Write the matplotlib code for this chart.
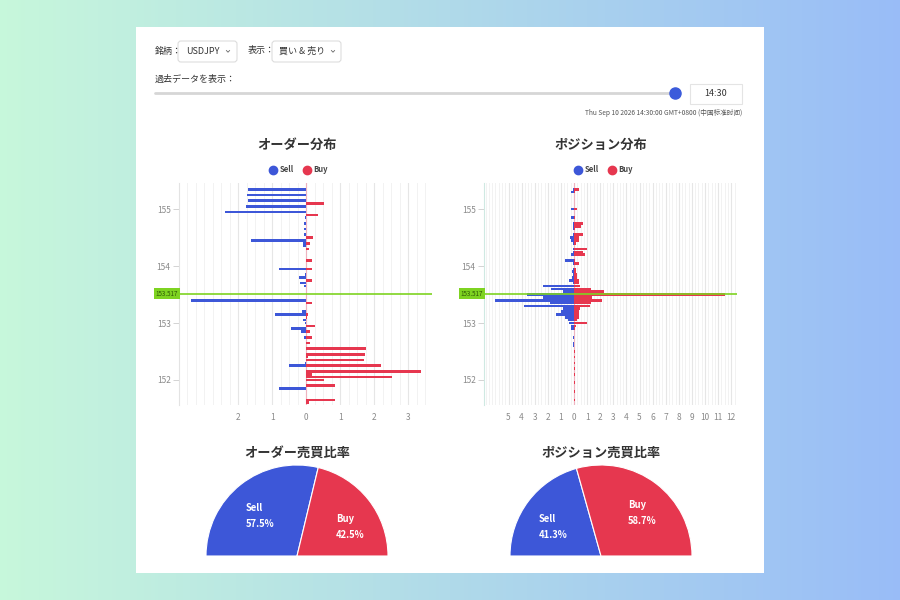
import numpy as np
import matplotlib.pyplot as plt
from matplotlib.patches import Rectangle, FancyBboxPatch
from matplotlib.ticker import MultipleLocator

plt.rcParams['font.family'] = ['Noto Sans CJK JP', 'DejaVu Sans']

SELL_COLOR = '#3d57d8'
BUY_COLOR = '#e6374f'
PRICE_COLOR = '#7ed321'
TICK_COLOR = '#8a8a8a'

# ---- data ----
symbol = 'USDJPY'
view_mode = '買い & 売り'
slider_time = '14:30'
timestamp = 'Thu Sep 10 2026 14:30:00 GMT+0800 (中国标准时间)'
current_price = 153.517

# order book (left chart)
order_sell_price = [155.35, 155.25, 155.15, 155.05, 154.95, 154.85, 154.75, 154.65,
                    154.55, 154.45, 154.40, 154.35, 154.25, 154.20, 154.15, 154.05,
                    153.95, 153.85, 153.80, 153.70, 153.65, 153.40, 153.25, 153.20,
                    153.15, 153.05, 153.00, 152.90, 152.85, 152.75, 152.55, 152.30,
                    152.25, 151.95, 151.85, 151.70, 151.65]
order_sell_qty = [1.70, 1.73, 1.70, 1.77, 2.40, 0.03, 0.06, 0.06,
                  0.07, 1.62, 0.10, 0.08, 0.01, 0.01, 0.01, 0.02,
                  0.81, 0.04, 0.21, 0.18, 0.06, 3.38, 0.02, 0.12,
                  0.93, 0.08, 0.04, 0.44, 0.16, 0.05, 0.01, 0.04,
                  0.51, 0.02, 0.80, 0.01, 0.01]
order_buy_price = [155.10, 154.90, 154.50, 154.40, 154.30, 154.10, 153.95, 153.75,
                   153.35, 153.15, 153.10, 152.95, 152.85, 152.75, 152.65, 152.55,
                   152.45, 152.40, 152.35, 152.25, 152.15, 152.10, 152.05, 152.00,
                   151.90, 151.65, 151.60]
order_buy_qty = [0.51, 0.34, 0.19, 0.11, 0.08, 0.17, 0.18, 0.17,
                 0.18, 0.04, 0.03, 0.26, 0.12, 0.17, 0.10, 1.77,
                 1.74, 0.05, 1.70, 2.20, 3.37, 0.17, 2.53, 0.51,
                 0.85, 0.84, 0.08]

# positions (right chart)
pos_price = [155.35, 155.30, 155.20, 155.10, 155.00, 154.85, 154.75, 154.70,
             154.65, 154.55, 154.50, 154.45, 154.40, 154.30, 154.25, 154.20,
             154.10, 154.05, 153.95, 153.90, 153.85, 153.80, 153.75, 153.70,
             153.65, 153.60, 153.55, 153.50, 153.45, 153.40, 153.35, 153.30,
             153.25, 153.20, 153.15, 153.10, 153.05, 153.00, 152.95, 152.90,
             152.75, 152.65, 152.60, 152.50, 152.40, 152.30, 152.20, 152.10,
             151.95, 151.80, 151.65]
pos_sell_qty = [0.05, 0.20, 0.00, 0.00, 0.20, 0.20, 0.05, 0.10,
                0.08, 0.10, 0.30, 0.20, 0.05, 0.05, 0.05, 0.25,
                0.71, 0.05, 0.10, 0.15, 0.10, 0.15, 0.36, 0.10,
                2.34, 1.78, 0.87, 3.61, 2.34, 6.00, 1.83, 3.82,
                0.81, 0.97, 1.37, 0.66, 0.46, 0.41, 0.25, 0.25,
                0.08, 0.08, 0.08, 0.00, 0.00, 0.00, 0.00, 0.00,
                0.00, 0.00, 0.00]
pos_buy_qty = [0.36, 0.05, 0.03, 0.03, 0.25, 0.05, 0.71, 0.50,
               0.10, 0.66, 0.40, 0.40, 0.15, 0.97, 0.70, 0.81,
               0.05, 0.36, 0.15, 0.15, 0.20, 0.25, 0.35, 0.40,
               0.45, 1.27, 2.29, 11.55, 1.37, 2.14, 1.32, 1.22,
               0.46, 0.36, 0.41, 0.36, 0.20, 1.02, 0.15, 0.05,
               0.03, 0.03, 0.03, 0.04, 0.04, 0.04, 0.04, 0.04,
               0.04, 0.04, 0.04]

order_ratio = {'Sell': 57.5, 'Buy': 42.5}
position_ratio = {'Sell': 41.3, 'Buy': 58.7}

W, H = 900, 600
fig = plt.figure(figsize=(9, 6), dpi=100)


def px_rect(x0, y0, x1, y1):
    """pixel box (top-left origin) -> figure fraction rect"""
    return [x0 / W, 1 - y1 / H, (x1 - x0) / W, (y1 - y0) / H]


# ---- background: gradient + white card ----
bg = fig.add_axes([0, 0, 1, 1])
bg.set_xlim(0, W)
bg.set_ylim(H, 0)
bg.axis('off')
c_left = np.array([0.78, 0.97, 0.86])
c_right = np.array([0.60, 0.74, 0.97])
t = np.linspace(0, 1, 256)
grad = (c_left[None, :] * (1 - t[:, None]) + c_right[None, :] * t[:, None])[None, :, :]
bg.imshow(grad, extent=[0, W, H, 0], aspect='auto', zorder=0)
bg.add_patch(Rectangle((136, 27), 628, 546, facecolor='white', edgecolor='none', zorder=1))

# ---- controls ----
txt = dict(color='#333333', zorder=3, va='center')
bg.text(155, 51, '銘柄：', fontsize=6.5, **txt)
bg.add_patch(FancyBboxPatch((178, 41), 59, 21, boxstyle='round,pad=0,rounding_size=3',
                            facecolor='white', edgecolor='#dddddd', lw=0.8, zorder=2))
bg.text(186, 51.5, symbol, fontsize=6.5, **txt)
bg.text(248, 51, '表示：', fontsize=6.5, **txt)
bg.add_patch(FancyBboxPatch((272, 41), 69, 21, boxstyle='round,pad=0,rounding_size=3',
                            facecolor='white', edgecolor='#dddddd', lw=0.8, zorder=2))
bg.text(279, 51.5, view_mode, fontsize=6.5, **txt)
for cx in (228, 333):
    bg.plot([cx - 1.6, cx, cx + 1.6], [50.5, 52.2, 50.5], color='#666666', lw=0.6, zorder=3)
bg.text(155, 79, '過去データを表示：', fontsize=6.5, **txt)
bg.plot([155, 675], [93, 93], color='#d6d6d6', lw=2, solid_capstyle='round', zorder=2)
bg.plot([675], [93], 'o', ms=8, color='#3b5bdb', zorder=3)
bg.add_patch(Rectangle((690, 84), 52, 20, facecolor='white', edgecolor='#e4e4e4', lw=0.8, zorder=2))
bg.text(716, 94, slider_time, fontsize=6.5, ha='center', color='#333333', va='center', zorder=3)
bg.text(742, 113, timestamp, fontsize=4.8, ha='right', va='center', color='#555555', zorder=3)

# ---- titles / legends ----
for cx, title in [(297, 'オーダー分布'), (601, 'ポジション分布')]:
    bg.text(cx, 145, title, fontsize=9.5, fontweight='bold', ha='center', va='center',
            color='#333333', zorder=3)
for sx in (273, 578):
    bg.plot([sx], [170], 'o', ms=6, color=SELL_COLOR, zorder=3)
    bg.text(sx + 7, 170, 'Sell', fontsize=5.5, fontweight='bold', va='center', color='#444444', zorder=3)
    bg.plot([sx + 34], [170], 'o', ms=6, color=BUY_COLOR, zorder=3)
    bg.text(sx + 40, 170, 'Buy', fontsize=5.5, fontweight='bold', va='center', color='#444444', zorder=3)
for cx, title in [(297, 'オーダー売買比率'), (601, 'ポジション売買比率')]:
    bg.text(cx, 453, title, fontsize=9.5, fontweight='bold', ha='center', va='center',
            color='#333333', zorder=3)


def draw_distribution(rect, sell_price, sell_qty, buy_price, buy_qty, xlim, xticks, minor,
                      spine_color):
    ax = fig.add_axes(rect)
    ax.patch.set_alpha(0)
    ax.barh(sell_price, -np.asarray(sell_qty), height=0.046, color=SELL_COLOR, zorder=3)
    ax.barh(buy_price, buy_qty, height=0.046, color=BUY_COLOR, zorder=3)
    ax.axvline(0, color='#eeb3bf', lw=0.8, zorder=2)
    ax.axhline(current_price, color=PRICE_COLOR, lw=1.2, zorder=4)
    ax.text(-0.003, current_price, f'{current_price:.3f}', transform=ax.get_yaxis_transform(),
            ha='right', va='center', fontsize=4.5, color='#2f5a06', zorder=5, clip_on=False,
            bbox=dict(boxstyle='square,pad=0.25', facecolor=PRICE_COLOR, edgecolor='none'))
    ax.set_xlim(*xlim)
    ax.set_ylim(151.56, 155.46)
    ax.set_xticks(xticks)
    ax.set_xticklabels([str(abs(v)) for v in xticks])
    ax.xaxis.set_minor_locator(MultipleLocator(minor))
    ax.set_yticks([152, 153, 154, 155])
    ax.grid(axis='x', which='major', color='#e6e6e6', lw=0.8, zorder=0)
    ax.grid(axis='x', which='minor', color='#f2f2f2', lw=0.7, zorder=0)
    ax.tick_params(axis='x', which='both', length=0, pad=6, labelsize=6, labelcolor=TICK_COLOR)
    ax.tick_params(axis='y', length=4, width=0.6, color='#cccccc', pad=2,
                   labelsize=6, labelcolor=TICK_COLOR)
    for side in ('top', 'right', 'bottom'):
        ax.spines[side].set_visible(False)
    ax.spines['left'].set_color(spine_color)
    ax.spines['left'].set_linewidth(0.8)
    return ax


draw_distribution(px_rect(179, 183, 432, 405), order_sell_price, order_sell_qty,
                  order_buy_price, order_buy_qty, (-3.74, 3.70), [-2, -1, 0, 1, 2, 3],
                  0.25, '#e3e3e3')
draw_distribution(px_rect(484, 183, 737, 405), pos_price, pos_sell_qty,
                  pos_price, pos_buy_qty, (-6.87, 12.44), list(range(-5, 13)),
                  0.25, '#cfe9e2')


def draw_half_pie(cx, cy, r, ratio, sell_xy, buy_xy):
    ax = fig.add_axes(px_rect(cx - r, cy - r, cx + r, cy + r))
    wedges, _ = ax.pie([ratio['Sell'], ratio['Buy'], 100], colors=[SELL_COLOR, BUY_COLOR, 'none'],
                       startangle=180, counterclock=False, radius=1,
                       wedgeprops=dict(edgecolor='white', linewidth=0.8))
    wedges[2].set_edgecolor('none')
    ax.set_xlim(-1, 1)
    ax.set_ylim(-1, 1)
    # slice labels sit on the figure so they draw above the pie axes
    for name, (x, y) in (('Sell', sell_xy), ('Buy', buy_xy)):
        fig.text(x / W, 1 - y / H, f'{name}\n{ratio[name]:.1f}%', fontsize=6.8,
                 fontweight='bold', color='white', va='center', ha='left',
                 linespacing=1.8, zorder=5)


draw_half_pie(297, 556, 91, order_ratio, (246, 516), (336, 527))
draw_half_pie(601, 556, 91, position_ratio, (539, 527), (628, 513))

fig.savefig('out.png', dpi=100)
